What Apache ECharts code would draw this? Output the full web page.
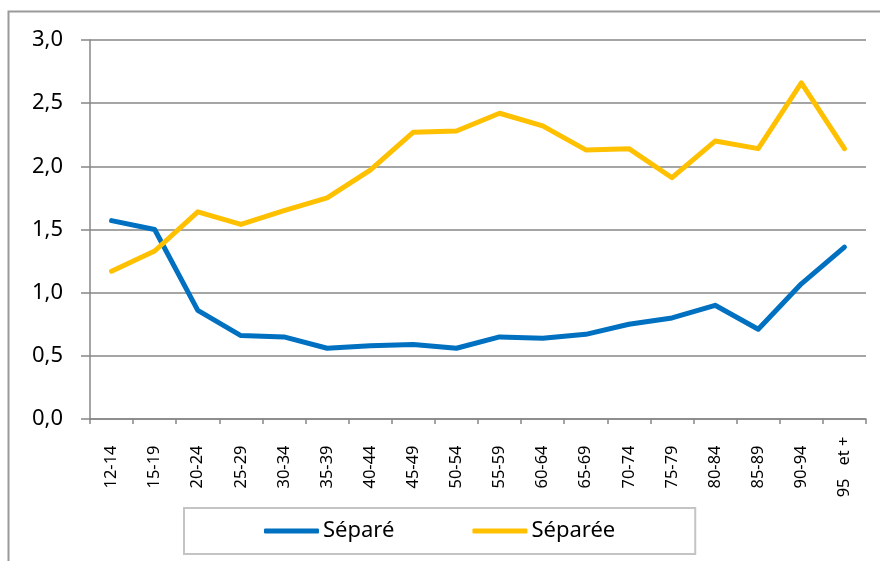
<!DOCTYPE html>
<html>
<head>
<meta charset="utf-8">
<script src="https://cdn.jsdelivr.net/npm/echarts@6/dist/echarts.min.js"></script>
<style>
  html, body { margin: 0; padding: 0; background: #fff; }
  #chart { width: 880px; height: 561px; }
</style>
</head>
<body>
<div id="chart"></div>
<script>
// Age groups
const categories = ['12-14', '15-19', '20-24', '25-29', '30-34', '35-39', '40-44', '45-49', '50-54',
  '55-59', '60-64', '65-69', '70-74', '75-79', '80-84', '85-89', '90-94', '95   et +'];

// Rates by age group
const separe = [1.57, 1.50, 0.86, 0.66, 0.65, 0.56, 0.58, 0.59, 0.56,
  0.65, 0.64, 0.67, 0.75, 0.80, 0.90, 0.71, 1.07, 1.36];
const separee = [1.17, 1.33, 1.64, 1.54, 1.65, 1.75, 1.97, 2.27, 2.28,
  2.42, 2.32, 2.13, 2.14, 1.91, 2.20, 2.14, 2.66, 2.14];

const seriesNames = ['Séparé', 'Séparée'];
const yTicks = [0, 0.5, 1, 1.5, 2, 2.5, 3];

const FONT = 'Noto Sans';
const GRID_COLOR = '#878787';

const chart = echarts.init(document.getElementById('chart'));

chart.setOption({
  backgroundColor: '#fff',
  animation: false,
  textStyle: { fontFamily: FONT },
  graphic: [{
    type: 'rect',
    shape: { x: 8.5, y: 11.5, width: 900, height: 600 },
    style: { fill: 'none', stroke: '#9a9a9a', lineWidth: 2 },
    silent: true
  }],
  grid: { left: 90, right: 14, top: 40, bottom: 142, containLabel: false },
  legend: {
    data: seriesNames,
    left: 184,
    top: 508,
    padding: [12, 80, 12, 80],
    itemGap: 78,
    itemWidth: 55,
    itemHeight: 5,
    icon: 'roundRect',
    borderColor: '#c4c4c4',
    borderWidth: 2,
    textStyle: { fontFamily: FONT, fontSize: 22, color: '#000', padding: [0, 0, 0, -1] }
  },
  xAxis: {
    type: 'category',
    data: categories,
    boundaryGap: true,
    axisLine: { show: true, lineStyle: { color: GRID_COLOR, width: 1.5 } },
    axisTick: { show: true, length: 5, lineStyle: { color: GRID_COLOR, width: 1.5 } },
    axisLabel: {
      rotate: 90,
      align: 'center',
      verticalAlign: 'middle',
      margin: 48,
      interval: 0,
      fontFamily: FONT,
      fontSize: 16.5,
      color: '#000'
    },
    splitLine: { show: false }
  },
  yAxis: {
    type: 'value',
    min: 0,
    max: 3,
    interval: 0.5,
    axisLine: { show: true, lineStyle: { color: GRID_COLOR, width: 1.5 } },
    axisTick: { show: true, length: 9, lineStyle: { color: GRID_COLOR, width: 1.5 } },
    axisLabel: {
      margin: 27,
      fontFamily: FONT,
      fontSize: 22,
      color: '#000',
      formatter: v => (yTicks.includes(v) ? v.toFixed(1).replace('.', ',') : '')
    },
    splitLine: { show: true, lineStyle: { color: GRID_COLOR, width: 1.5 } }
  },
  series: [
    {
      name: seriesNames[0],
      type: 'line',
      data: separe,
      symbol: 'none',
      color: '#0070C0',
      lineStyle: { width: 5, color: '#0070C0', cap: 'round', join: 'round' }
    },
    {
      name: seriesNames[1],
      type: 'line',
      data: separee,
      symbol: 'none',
      color: '#FFC000',
      lineStyle: { width: 5, color: '#FFC000', cap: 'round', join: 'round' }
    }
  ]
});
</script>
</body>
</html>
